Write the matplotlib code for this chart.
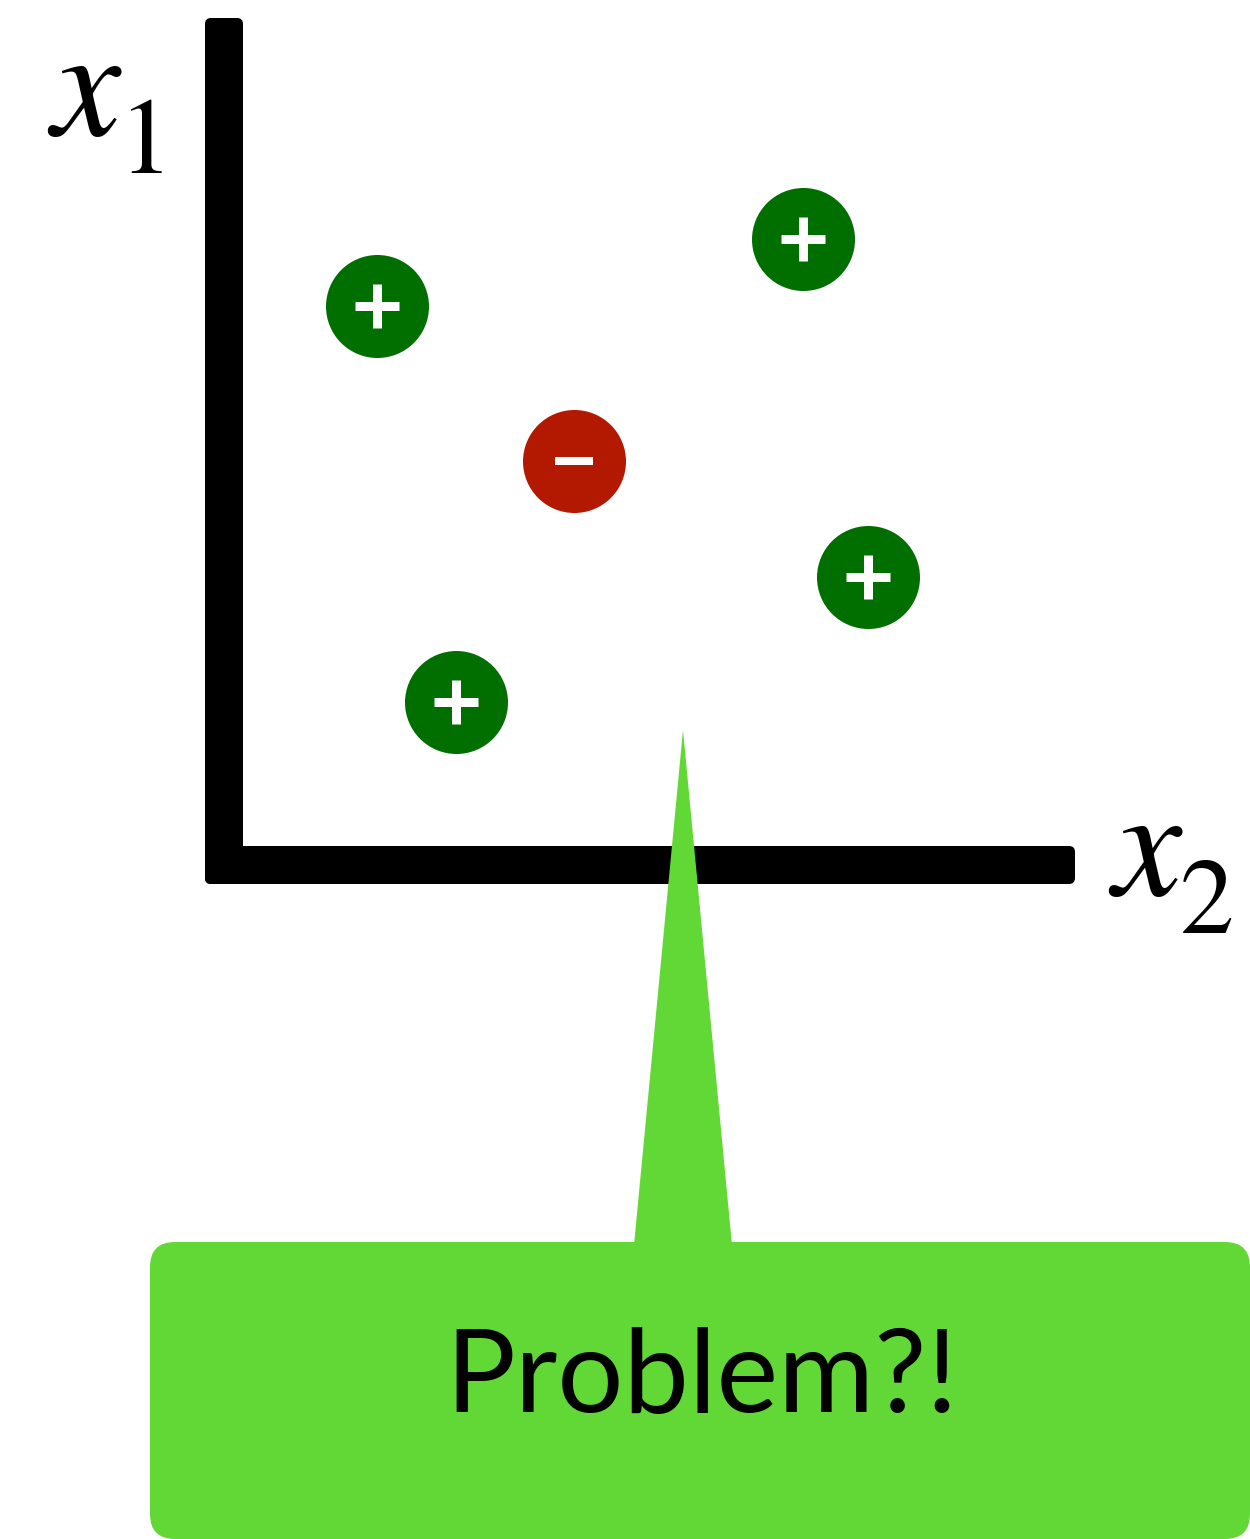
import matplotlib
matplotlib.use("Agg")
import matplotlib.pyplot as plt
from matplotlib.patches import FancyBboxPatch, Polygon

plt.rcParams['mathtext.fontset'] = 'stix'

# points (x2, x1) measured from the axis corner
pos_x2 = [153, 579, 644, 232]
pos_x1 = [559, 626, 288, 163]
neg_x2 = [350]
neg_x1 = [404]

green = '#006f00'
red = '#b31800'
callout = '#62d836'

fig = plt.figure(figsize=(12.5, 15.39), dpi=100)
ax = fig.add_axes([0, 0, 1, 1])
ax.set_xlim(-224, 1026)
ax.set_ylim(-674, 865)
ax.axis('off')

# the two axis bars, slightly rounded
for (x0, y0, w, h) in [(-19, -19, 38, 866), (-19, -19, 870, 38)]:
    ax.add_patch(FancyBboxPatch((x0, y0), w, h,
                                boxstyle='round,pad=0,rounding_size=6',
                                facecolor='black', edgecolor='none', zorder=1))

# axis names: italic x with a lowered subscript
ax.text(-177, 730, r'$x$', fontsize=112, ha='left', va='baseline')
ax.text(-106, 692, r'$\mathrm{1}$', fontsize=78, ha='left', va='baseline')
ax.text(884, -30, r'$x$', fontsize=112, ha='left', va='baseline')
ax.text(955, -68, r'$\mathrm{2}$', fontsize=78, ha='left', va='baseline')

ms = 103 * 72 / 100
ax.plot(pos_x2, pos_x1, 'o', ms=ms, color=green, mec='none', zorder=3)
ax.plot(neg_x2, neg_x1, 'o', ms=ms, color=red, mec='none', zorder=3)
ax.plot(pos_x2, pos_x1, '+', ms=44 * 0.72, mew=9 * 0.72, color='white', zorder=4)
ax.plot(neg_x2, neg_x1, '_', ms=38 * 0.72, mew=8 * 0.72, color='white', zorder=4)

# callout
tri = Polygon([[459, 135], [410, -380], [508, -380]], closed=True,
              facecolor=callout, edgecolor='none', zorder=5)
ax.add_patch(tri)
box = FancyBboxPatch((-74, -674), 1100, 297,
                     boxstyle='round,pad=0,rounding_size=25',
                     facecolor=callout, edgecolor='none', zorder=5)
ax.add_patch(box)
ax.text(478, -514, 'Problem?!', fontsize=84, family='Lato',
        ha='center', va='center', color='black', zorder=6)

fig.savefig('out.png', dpi=100)
